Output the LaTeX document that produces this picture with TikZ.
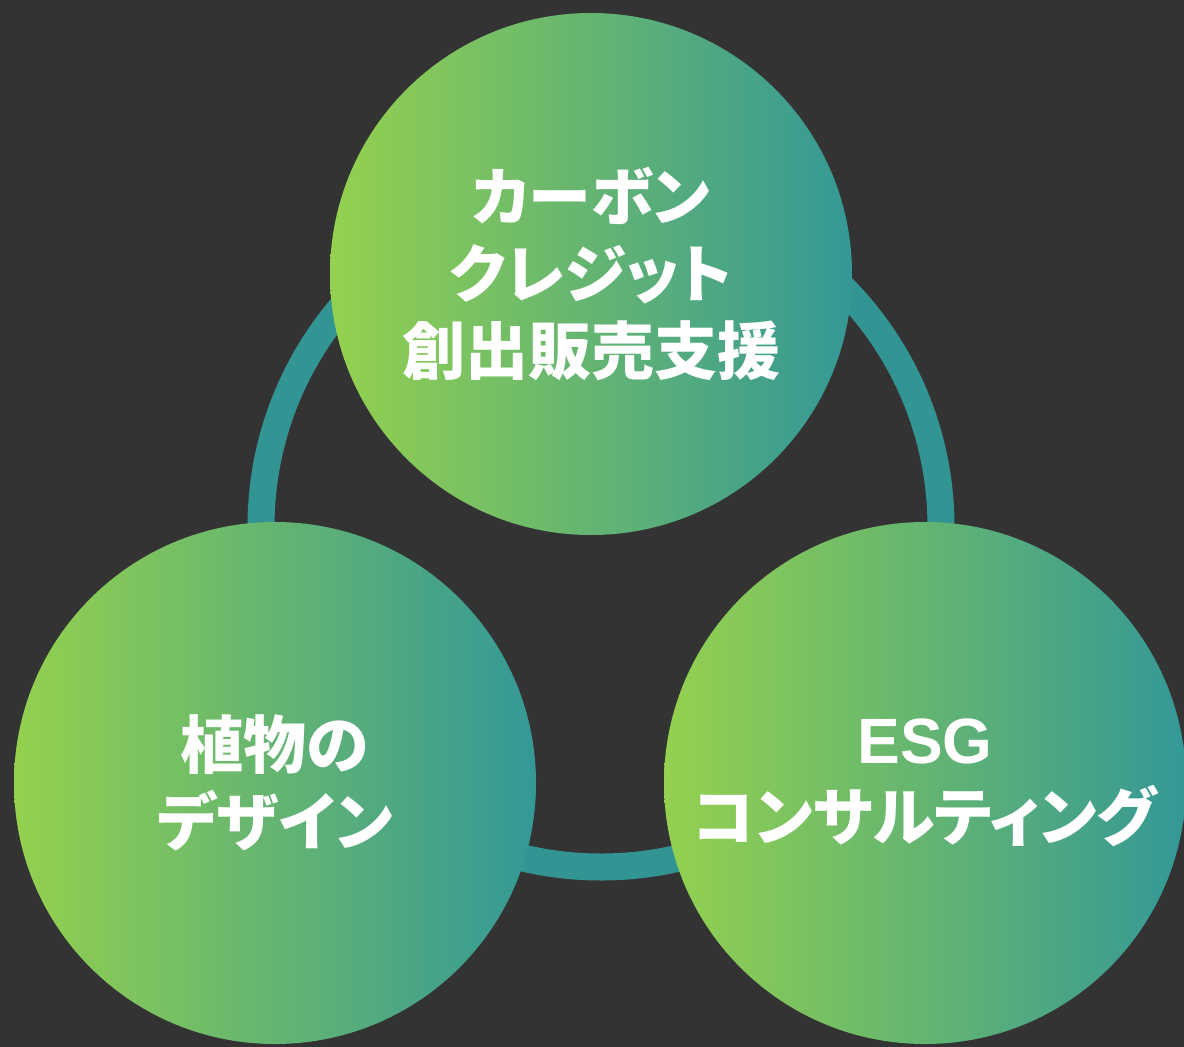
\documentclass[tikz,border=0pt]{standalone}
\usepackage{fontspec}
\usepackage{tikz}
\setmainfont{Noto Sans CJK JP}[RawFeature=+palt]
\newfontfamily\esgFont{Liberation Sans}
\definecolor{backColor}{RGB}{51,51,51}
\definecolor{leafGreen}{RGB}{148,209,78}
\definecolor{seaTeal}{RGB}{52,152,150}
\definecolor{ringColor}{RGB}{51,148,148}
\tikzstyle{board} = [x = 1pt, y = -1pt]
\newcommand{\bubbleFont}{\fontsize{63}{77}\selectfont\bfseries}
\tikzstyle{bubbleStyle} = [circle, minimum size = 522pt, inner sep = 0pt, left color = leafGreen, right color = seaTeal, text = white, align = center, font = \bubbleFont]
\tikzstyle{ringStyle} = [draw = ringColor, line width = 27pt]
\newcommand{\bubble}[4]{\node [bubbleStyle] (#1) at (#2, #3) {#4};}

\begin{document}
\begin{tikzpicture}[board]
  \fill [backColor] (0, 0) rectangle (1184, 1047);
  \useasboundingbox (0, 0) rectangle (1184, 1047);
  \coordinate (ringCenter) at (601, 527);
  \draw [ringStyle] (ringCenter) circle (340);
  \bubble{carbon}{591}{274}{カーボン\\クレジット\\創出販売支援}
  \bubble{plant}{275}{783}{植物の\\デザイン}
  \bubble{esg}{925}{783}{{\esgFont\fontsize{64}{77}\selectfont ESG}\\コンサルティング}
\end{tikzpicture}
\end{document}
